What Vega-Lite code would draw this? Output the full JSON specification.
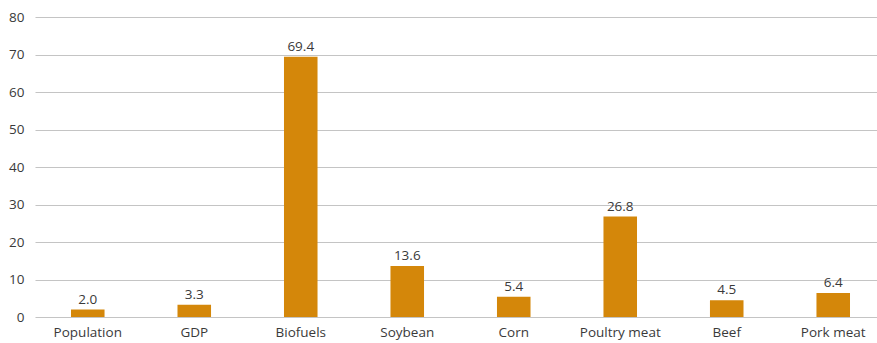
{
  "$schema": "https://vega.github.io/schema/vega-lite/v6.json",
  "autosize": "none",
  "width": 851,
  "height": 300,
  "padding": {"left": 35, "top": 17, "right": 0, "bottom": 26},
  "background": "white",
  "config": {
    "view": {"stroke": null},
    "font": "Open Sans",
    "axis": {"labelFont": "Open Sans", "labelColor": "#3a3a3a", "labelFontSize": 13.5}
  },
  "data": {
    "values": [
      {"category": "Population", "value": 2.0},
      {"category": "GDP", "value": 3.3},
      {"category": "Biofuels", "value": 69.4},
      {"category": "Soybean", "value": 13.6},
      {"category": "Corn", "value": 5.4},
      {"category": "Poultry meat", "value": 26.8},
      {"category": "Beef", "value": 4.5},
      {"category": "Pork meat", "value": 6.4}
    ]
  },
  "encoding": {
    "x": {
      "field": "category",
      "type": "nominal",
      "sort": null,
      "title": null,
      "scale": {"paddingInner": 0.685, "paddingOuter": 0.338},
      "axis": {"labelAngle": 0, "domain": false, "ticks": false, "labelPadding": 8}
    },
    "y": {
      "field": "value",
      "type": "quantitative",
      "title": null,
      "scale": {"domain": [0, 80]},
      "axis": {
        "values": [0, 10, 20, 30, 40, 50, 60, 70, 80],
        "domain": false,
        "ticks": false,
        "labelPadding": 11,
        "gridColor": "#c4c4c4",
        "gridWidth": 1.2
      }
    }
  },
  "layer": [
    {"mark": {"type": "bar", "color": "#D4870A"}},
    {
      "mark": {"type": "text", "dy": -10, "fontSize": 13.5, "color": "#3a3a3a", "font": "Open Sans"},
      "encoding": {"text": {"field": "value", "type": "quantitative", "format": ".1f"}}
    }
  ]
}
